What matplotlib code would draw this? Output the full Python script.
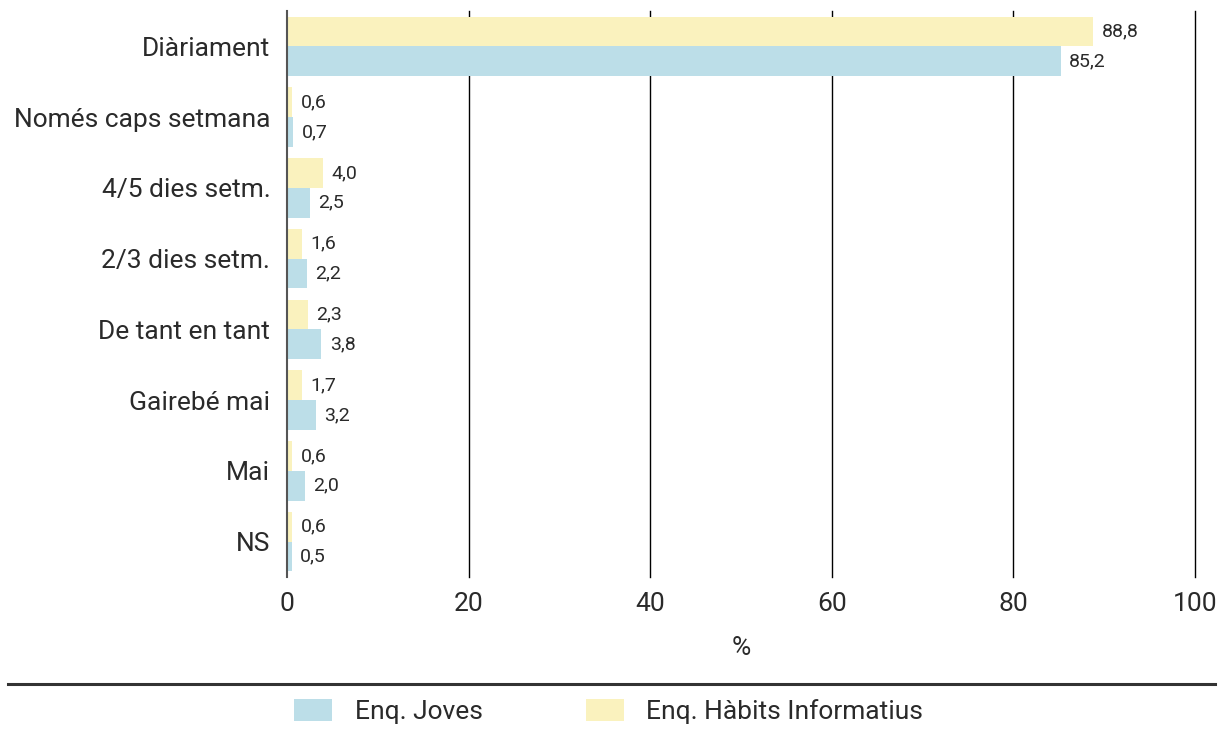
import matplotlib.pyplot as plt
import numpy as np
from matplotlib.patches import Patch
from matplotlib.lines import Line2D

categories = ['Diàriament', 'Només caps setmana', '4/5 dies setm.', '2/3 dies setm.',
              'De tant en tant', 'Gairebé mai', 'Mai', 'NS']
joves = [85.2, 0.7, 2.5, 2.2, 3.8, 3.2, 2.0, 0.5]
habits = [88.8, 0.6, 4.0, 1.6, 2.3, 1.7, 0.6, 0.6]
series_names = ['Enq. Joves', 'Enq. Hàbits Informatius']

blue = '#bcdee8'
yellow = '#faf2be'
txt = '#2a2a2a'

plt.rcParams['font.family'] = ['Roboto', 'DejaVu Sans']

fig = plt.figure(figsize=(12.27, 7.36), dpi=100)
ax = fig.add_axes([0.2339, 0.216, 0.74, 0.769])

y = np.arange(len(categories))
h = 0.42
b1 = ax.barh(y - h / 2, habits, height=h, color=yellow, zorder=3)
b2 = ax.barh(y + h / 2, joves, height=h, color=blue, zorder=3)

def fmt(v):
    return f'{v:.1f}'.replace('.', ',')

for bars, vals in [(b1, habits), (b2, joves)]:
    for rect, v in zip(bars, vals):
        ax.annotate(fmt(v), xy=(v, rect.get_y() + rect.get_height() / 2),
                    xytext=(6, 0), textcoords='offset points',
                    va='center', ha='left', fontsize=14, color=txt)

ax.set_xlim(0, 100)
ax.set_ylim(len(categories) - 0.5, -0.5)
ax.set_yticks(y)
ax.set_yticklabels(categories, fontsize=19, color=txt)
ax.set_xticks([0, 20, 40, 60, 80, 100])
ax.tick_params(axis='both', length=0, labelsize=19, colors=txt)
ax.tick_params(axis='y', pad=12)
ax.tick_params(axis='x', pad=11)
ax.set_xlabel('%', fontsize=19, color=txt, labelpad=14)

for s in ['top', 'right', 'bottom']:
    ax.spines[s].set_visible(False)
ax.spines['left'].set_color('#555555')
ax.spines['left'].set_linewidth(1.5)
ax.spines['left'].set_zorder(4)

for xv in [20, 40, 60, 80, 100]:
    ax.axvline(xv, color='black', linewidth=1.0, zorder=1, clip_on=False)

fig.add_artist(Line2D([8 / 1227, 1215 / 1227], [0.0707, 0.0707],
                      color='#333333', linewidth=2.2))

handles = [Patch(facecolor=blue, edgecolor='none', label=series_names[0]),
           Patch(facecolor=yellow, edgecolor='none', label=series_names[1])]
fig.legend(handles=handles, loc='center', bbox_to_anchor=(0.496, 0.033), ncol=2,
           frameon=False, fontsize=19, handlelength=1.45, handleheight=0.9,
           handletextpad=0.85, columnspacing=3.9, labelcolor=txt)

fig.savefig('out.png', dpi=100)
